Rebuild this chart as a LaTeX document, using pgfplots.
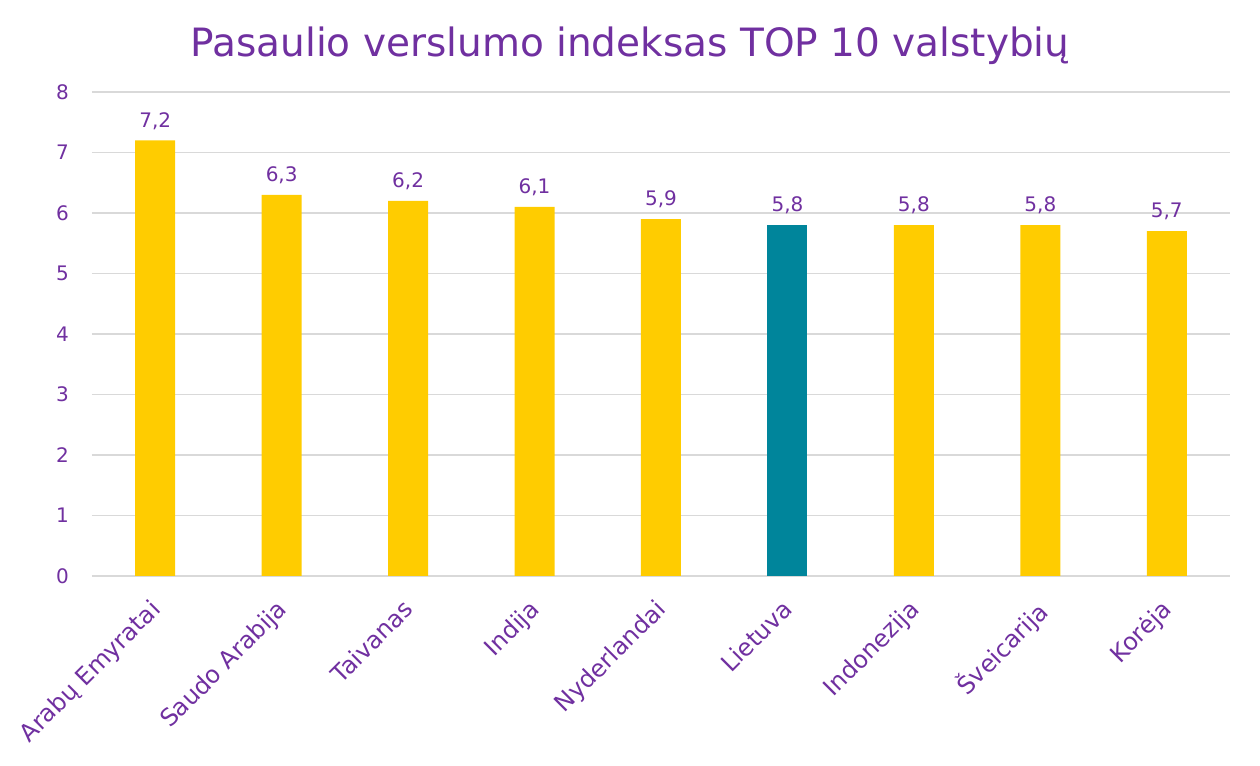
\documentclass[border=0pt]{standalone}
\usepackage{pgfplots}
\pgfplotsset{compat=1.18}
\usepackage{fontspec}
\setmainfont{DejaVu Sans}
\definecolor{ttl}{HTML}{7030A0}
\definecolor{geltona}{HTML}{FFCC00}
\definecolor{zalia}{HTML}{00859B}
\definecolor{gridc}{HTML}{D9D9D9}
\begin{document}
\begin{tikzpicture}
\useasboundingbox (0,0) rectangle (630pt,383pt);
\node[font=\fontsize{19.5}{22}\selectfont, text=ttl] at (315pt,360pt) {Pasaulio verslumo indeksas TOP 10 valstybių};
\begin{axis}[
    at={(46pt,95pt)}, anchor=south west,
    scale only axis, width=569pt, height=242pt,
    xmin=-0.5, xmax=8.5, ymin=0, ymax=8,
    ytick={0,1,...,8},
    xtick={0,...,8},
    xticklabels={Arabų Emyratai, Saudo Arabija, Taivanas, Indija, Nyderlandai, Lietuva, Indonezija, Šveicarija, Korėja},
    xticklabel style={rotate=45, anchor=north east, font=\fontsize{12}{14}\selectfont, text=ttl, xshift=-6.5pt, yshift=-2pt},
    yticklabel style={font=\fontsize{10}{12}\selectfont, text=ttl, xshift=-8pt},
    /pgf/number format/assume math mode=true,
    major tick length=0pt,
    ymajorgrids, grid style={draw=gridc, line width=0.8pt},
    axis line style={draw=none},
    ybar, bar width=20pt,
    nodes near coords,
    every node near coord/.append style={font=\fontsize{10}{12}\selectfont, text=ttl, yshift=2pt,
        /pgf/number format/fixed, /pgf/number format/fixed zerofill, /pgf/number format/precision=1},
    /pgf/number format/use comma,
]
\addplot[ybar, bar shift=0pt, fill=geltona, draw=none] coordinates {(0,7.2) (1,6.3) (2,6.2) (3,6.1) (4,5.9) (6,5.8) (7,5.8) (8,5.7)};
\addplot[ybar, bar shift=0pt, fill=zalia, draw=none] coordinates {(5,5.8)};
\end{axis}
\end{tikzpicture}
\end{document}
